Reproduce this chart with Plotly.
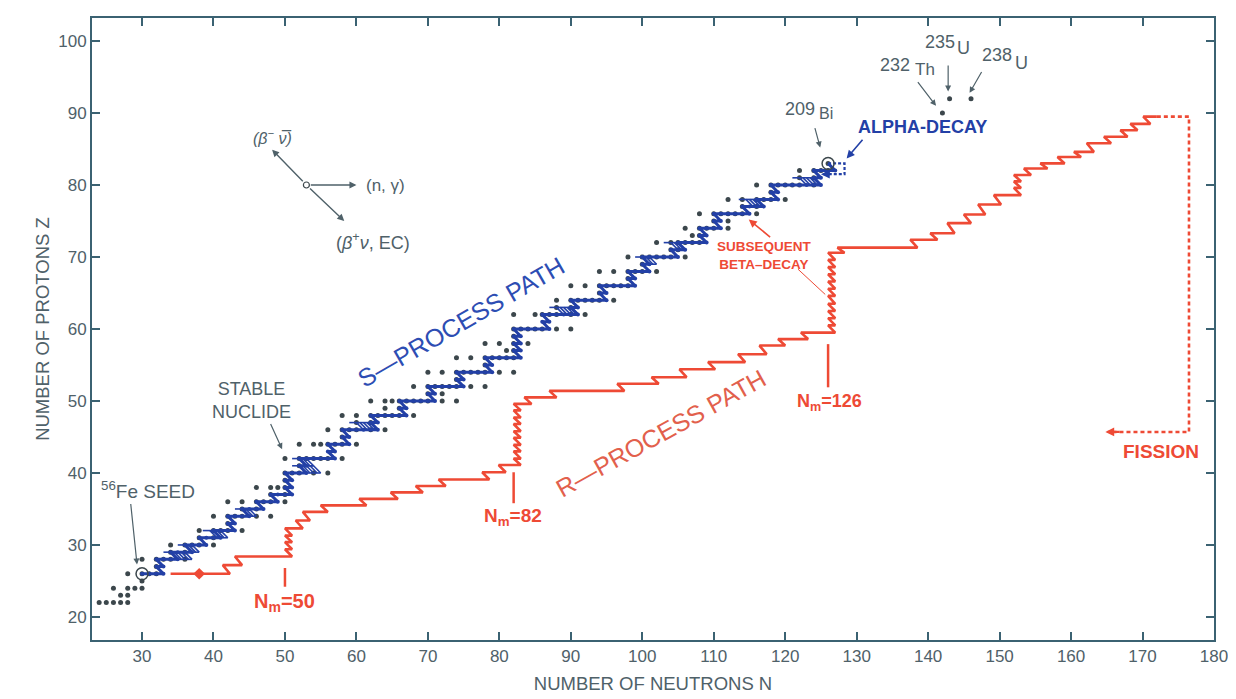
import plotly.graph_objects as go

# ---------------- data ----------------
# stable nuclides: proton number Z and its stable neutron numbers N
stable_Z = list(range(22, 84))
stable_N = [
    [24, 25, 26, 27, 28], [27, 28], [26, 28, 29, 30], [30], [28, 30, 31, 32],
    [32], [30, 32, 33, 34, 36], [34, 36], [34, 36, 37, 38, 40], [38, 40],
    [38, 40, 41, 42, 44], [42], [40, 42, 43, 44, 46, 48], [44, 46],
    [42, 44, 46, 47, 48, 50], [48, 50], [46, 48, 49, 50], [50],
    [50, 51, 52, 54, 56], [52], [50, 52, 53, 54, 55, 56, 58], [],
    [52, 54, 55, 56, 57, 58, 60], [58], [56, 58, 59, 60, 62, 64], [60, 62],
    [58, 60, 62, 63, 64, 65, 66, 68], [64, 66],
    [62, 64, 65, 66, 67, 68, 69, 70, 72, 74], [70, 72],
    [68, 70, 71, 72, 73, 74, 76, 78], [74],
    [70, 72, 74, 75, 76, 77, 78, 80, 82], [78],
    [74, 76, 78, 79, 80, 81, 82], [81, 82], [78, 80, 82, 84], [82],
    [82, 83, 84, 85, 86, 88, 90], [], [82, 85, 86, 87, 88, 90, 92], [88, 90],
    [88, 90, 91, 92, 93, 94, 96], [94], [90, 92, 94, 95, 96, 97, 98], [98],
    [94, 96, 98, 99, 100, 102], [100], [98, 100, 101, 102, 103, 104, 106],
    [104, 105], [102, 104, 105, 106, 107, 108], [107, 108],
    [106, 108, 109, 110, 112], [110, 112], [108, 110, 111, 112, 113, 114, 116],
    [114, 116], [112, 114, 116, 117, 118, 120], [118],
    [116, 118, 119, 120, 121, 122, 124], [122, 124], [122, 124, 125, 126], [126],
]
actinide_Z = [90, 92, 92]
actinide_N = [142, 143, 146]

# s-process path: start neutron number and, per element Z, the N where beta-decay occurs
s_N0 = 30
s_Z = list(range(26, 83))
s_Nbeta = [33, 33, 35, 37, 39, 41, 43, 43, 45, 47, 49, 51, 51, 51, 53, 53, 57, 57, 59, 59,
           63, 63, 67, 67, 71, 71, 75, 75, 79, 79, 83, 83, 83, 83, 87, 87, 91, 91, 95, 95,
           99, 99, 101, 101, 105, 106, 109, 109, 111, 111, 115, 117, 119, 119, 125, 125, 127]
# branching (hatched) regions of the s-path: Z level, N range
br_Z = [28, 29, 31, 34, 40, 41, 46, 62, 69, 71, 77, 80]
br_N0 = [35, 37, 40.5, 45, 53, 53, 61, 89, 101, 105, 115.5, 123]
br_N1 = [37, 38, 42, 46, 55, 54, 63, 91, 102, 106, 117, 125]

# r-process path: start N, level Z and N where each step occurs
r_N0 = 34
r_Z = [26.0, 27.2, 28.4, 29.4, 30.4, 31.3, 32.3, 33.4, 34.6, 35.5, 36.4, 37.3, 38.2, 39.1,
       40.1, 41.1, 42.0, 43.0, 43.9, 44.9, 45.8, 46.8, 47.7, 48.7, 49.6, 50.5, 51.4, 52.4,
       53.3, 54.4, 55.4, 56.5, 57.7, 58.6, 59.5, 60.5, 61.5, 62.5, 63.5, 64.6, 65.6, 66.6,
       67.6, 68.6, 69.6, 70.6, 71.3, 72.4, 73.3, 74.7, 75.9, 77.3, 78.6, 79.6, 80.5, 81.4,
       82.3, 83.0, 83.9, 84.6, 85.8, 86.7, 87.6, 88.5, 89.5]
r_Nstep = [42.3, 44.0, 51, 51, 51, 51, 52.5, 53.5, 56.0, 61.4, 65.8, 69.3, 72.5, 78.6,
           80.9, 83, 83, 83, 83, 83, 83, 83, 83, 83, 84.5, 88.0, 97.5, 102.3,
           106.2, 110.2, 114.4, 117.4, 120.0, 123.2, 127, 127, 127, 127, 127, 127, 127, 127,
           127, 127, 127, 128.3, 138.5, 141.3, 143.7, 146.0, 148.0, 150.2, 153, 153, 153, 154.4,
           156.7, 159.1, 161.4, 163.2, 165.6, 167.9, 169.3, 171.1, 172.0]
r_marker_N, r_marker_Z = [38], [26]

fission_N = [172.0, 176.5, 176.5, 166.0]
fission_Z = [89.5, 89.5, 45.7, 45.7]
alpha_N = [126.0, 128.3, 128.3, 126.0]
alpha_Z = [83.0, 83.0, 81.5, 81.5]

seed_N, seed_Z = [30, 126], [26, 83]   # circled 56Fe seed and 209Bi
magic_N = [50, 82, 126]

# ---------------- styles ----------------
FONT = "Liberation Sans, Arial, Helvetica, sans-serif"
AX = "#3b6272"
TXT = "#4f6169"
DOT = "#3c474c"
BLUE = "#2340a6"
RED = "#ee4a35"

fig = go.Figure()

# stable nuclide dots
dn, dz = [], []
for z, ns in zip(stable_Z, stable_N):
    for n in ns:
        dn.append(n); dz.append(z)
dn += actinide_N; dz += actinide_Z
fig.add_trace(go.Scatter(x=dn, y=dz, mode="markers",
                         marker=dict(size=5, color=DOT), hoverinfo="skip"))

# s-process path
sx, sy = [s_N0], [s_Z[0]]
bx, by = [], []
for i, z in enumerate(s_Z):
    start = s_N0 if i == 0 else s_Nbeta[i - 1] - 1
    for n in range(start, s_Nbeta[i] + 1):
        bx.append(n); by.append(z)
    sx.append(s_Nbeta[i]); sy.append(z)
    sx.append(s_Nbeta[i] - 1); sy.append(z + 1)

hx, hy = [], []
for z, n0, n1 in zip(br_Z, br_N0, br_N1):
    hx += [n0 - 1, n1, None, n0 - 2, n1 - 1, None]
    hy += [z, z, None, z + 1, z + 1, None]
    k = n0
    while k <= n1 + 1e-9:
        hx += [k, k - 1, None]
        hy += [z, z + 1, None]
        k += 0.5
fig.add_trace(go.Scatter(x=hx, y=hy, mode="lines", line=dict(color=BLUE, width=1.6),
                         hoverinfo="skip", connectgaps=False))
fig.add_trace(go.Scatter(x=sx, y=sy, mode="lines", line=dict(color=BLUE, width=3),
                         hoverinfo="skip"))
fig.add_trace(go.Scatter(x=bx, y=by, mode="markers", marker=dict(size=4, color=BLUE),
                         hoverinfo="skip"))
fig.add_trace(go.Scatter(x=alpha_N, y=alpha_Z, mode="lines",
                         line=dict(color=BLUE, width=2.2, dash="3px,2px"), hoverinfo="skip"))

# r-process path
rx, ry = [r_N0], [r_Z[0]]
for i, z in enumerate(r_Z):
    rx.append(r_Nstep[i]); ry.append(z)
    if i + 1 < len(r_Z):
        rx.append(r_Nstep[i] - 1); ry.append(r_Z[i + 1])
fig.add_trace(go.Scatter(x=rx, y=ry, mode="lines", line=dict(color=RED, width=2.6),
                         hoverinfo="skip"))
fig.add_trace(go.Scatter(x=r_marker_N, y=r_marker_Z, mode="markers",
                         marker=dict(symbol="diamond", size=9, color=RED), hoverinfo="skip"))
fig.add_trace(go.Scatter(x=fission_N, y=fission_Z, mode="lines",
                         line=dict(color=RED, width=2.6, dash="4px,3px"), hoverinfo="skip"))

# circled seed / Bi and reaction origin
fig.add_trace(go.Scatter(x=seed_N, y=seed_Z, mode="markers",
                         marker=dict(symbol="circle-open", size=12, color=DOT,
                                     line=dict(width=1.5, color=DOT)), hoverinfo="skip"))
fig.add_trace(go.Scatter(x=[53], y=[80], mode="markers",
                         marker=dict(symbol="circle-open", size=6, color=DOT,
                                     line=dict(width=1.2, color=DOT)), hoverinfo="skip"))

ann = []


def text(x, y, t, size=16, color=TXT, angle=0, bold=False, xanchor="center"):
    ann.append(dict(x=x, y=y, xref="x", yref="y", text=(f"<b>{t}</b>" if bold else t),
                    showarrow=False, textangle=angle, xanchor=xanchor,
                    font=dict(family=FONT, size=size, color=color)))


def arrow(x, y, ax, ay, color=TXT, head=2, width=1.2, size=1.0):
    ann.append(dict(x=x, y=y, ax=ax, ay=ay, xref="x", yref="y", axref="x", ayref="y",
                    text="", showarrow=True, arrowhead=head, arrowwidth=width,
                    arrowsize=size, arrowcolor=color))


text(74.6, 61.0, "S\u2014PROCESS PATH", 25, "#2d4db3", angle=-30)
text(102.6, 45.6, "R\u2014PROCESS PATH", 25, "#e2604c", angle=-29)
text(45.3, 50.0, "STABLE<br>NUCLIDE", 18)
arrow(49.6, 43.3, 47.9, 47.0)
text(30.8, 37.7, "<sup>56</sup>Fe SEED", 19)
arrow(29.3, 27.3, 28.4, 35.9)
text(122.1, 90.5, "209", 18)
text(125.7, 89.9, "Bi", 16)
arrow(124.9, 85.2, 124.1, 88.1)
text(139.2, 88.0, "ALPHA-DECAY", 18, BLUE, bold=True)
arrow(128.6, 83.7, 131.0, 86.5, color=BLUE, width=1.6)
text(135.3, 96.7, "232", 18)
text(139.6, 96.0, "Th", 17)
arrow(141.1, 91.0, 138.4, 94.5)
text(141.6, 99.9, "235", 18)
text(144.9, 99.1, "U", 18)
arrow(142.8, 93.0, 142.8, 96.8)
text(149.7, 98.1, "238", 18)
text(153.0, 97.0, "U", 18)
arrow(145.8, 92.8, 147.6, 95.9)
# reaction direction key
arrow(60.0, 80.0, 53.4, 80.0, color=TXT, width=1.4)
arrow(48.2, 84.9, 52.7, 80.3, color=TXT, width=1.4)
arrow(58.3, 75.0, 53.3, 79.7, color=TXT, width=1.4)
text(64.0, 80.0, "(n, \u03b3)", 17)
text(48.2, 86.7, "<i>(\u03b2<sup>\u2212</sup> \u03bd\u0305)</i>", 16)
text(62.3, 72.2, "(<i>\u03b2</i><sup>+</sup><i>\u03bd</i>, EC)", 18)
# r-process notes
text(117.1, 70.2, "SUBSEQUENT<br>BETA\u2013DECAY", 13.5, RED, bold=True)
arrow(114.9, 75.2, 118.1, 72.6, color=RED, width=1.6)
text(50.0, 22.0, "N<sub>m</sub>=50", 20, RED, bold=True)
text(81.9, 33.9, "N<sub>m</sub>=82", 19, RED, bold=True)
text(126.2, 49.8, "N<sub>m</sub>=126", 18, RED, bold=True)
text(172.6, 43.0, "FISSION", 19, RED, bold=True)
arrow(164.8, 45.7, 167.0, 45.7, color=RED, width=2.2, size=0.8)
arrow(125.0, 81.5, 126.5, 81.5, color=BLUE, width=2.2, size=0.8)

shapes = [
    dict(type="line", xref="x", yref="y", x0=magic_N[0], x1=magic_N[0], y0=26.8, y1=24.2,
         line=dict(color=RED, width=2.5)),
    dict(type="line", xref="x", yref="y", x0=magic_N[1], x1=magic_N[1], y0=40.1, y1=35.8,
         line=dict(color=RED, width=2.5)),
    dict(type="line", xref="x", yref="y", x0=magic_N[2], x1=magic_N[2], y0=57.9, y1=51.9,
         line=dict(color=RED, width=2.5)),
    dict(type="line", xref="x", yref="y", x0=121.8, x1=125.6, y0=68.3, y1=64.8,
         line=dict(color=RED, width=1)),
]

axis_common = dict(showgrid=False, zeroline=False, showline=True, linecolor=AX, linewidth=2,
                   mirror="ticks", ticks="inside", ticklen=8, tickwidth=1.6, tickcolor=AX,
                   tickfont=dict(family=FONT, size=17, color=TXT))

fig.update_layout(
    width=1228, height=691,
    margin=dict(l=84, r=19, t=8, b=58),
    paper_bgcolor="white", plot_bgcolor="white",
    showlegend=False,
    annotations=ann, shapes=shapes,
    xaxis=dict(range=[23, 180], tickmode="array", tickvals=list(range(30, 181, 10)),
               title=dict(text="NUMBER OF NEUTRONS N", standoff=12,
                          font=dict(family=FONT, size=18.5, color=TXT)), **axis_common),
    yaxis=dict(range=[16.8, 103.2], tickmode="array", tickvals=list(range(20, 101, 10)),
               title=dict(text="NUMBER OF PROTONS Z", standoff=4,
                          font=dict(family=FONT, size=18.5, color=TXT)), **axis_common),
)

fig.write_html("out.html")
